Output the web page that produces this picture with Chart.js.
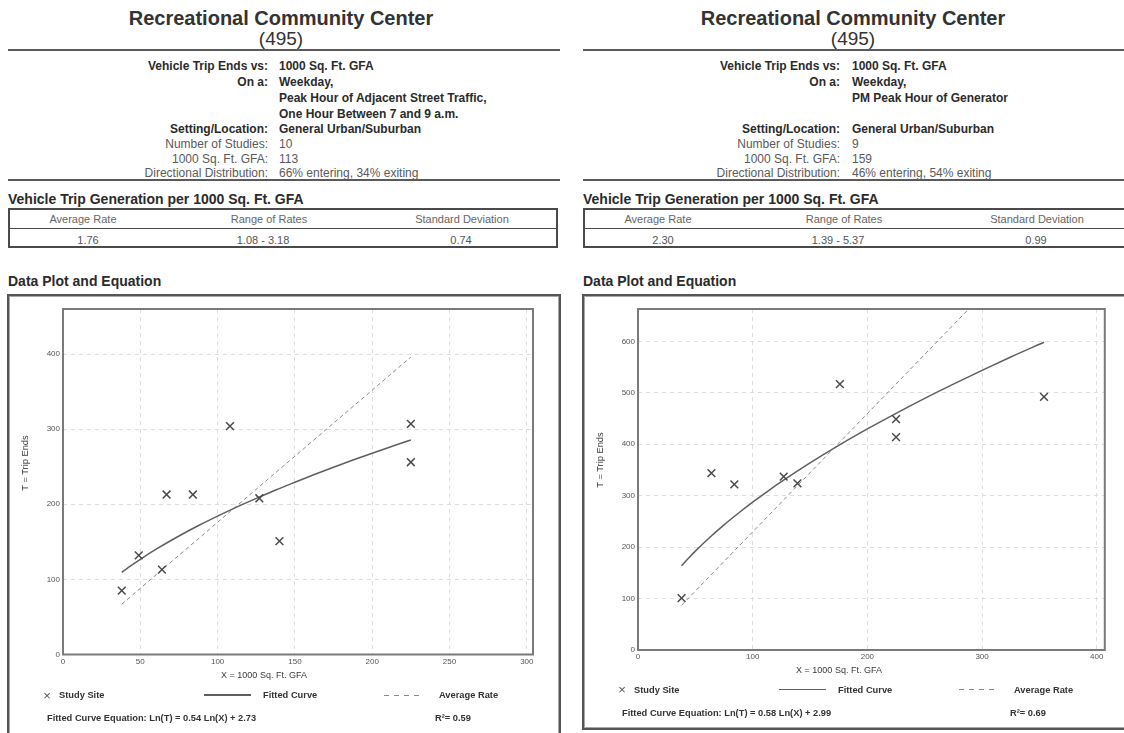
<!DOCTYPE html>
<html>
<head>
<meta charset="utf-8">
<script src="https://cdn.jsdelivr.net/npm/chart.js@4.4.1/dist/chart.umd.min.js"></script>
<style>
  html { overflow: hidden; }
  html, body { margin: 0; padding: 0; background: #fff; }
  body { width: 1124px; height: 733px; overflow: hidden; position: relative;
         font-family: "Liberation Sans", Arial, sans-serif; color: #333; }
  .t { position: absolute; white-space: nowrap; }
  .rule { position: absolute; height: 2px; background: #5a5a5a; }
  .table { position: absolute; border: 2px solid #4a4a4a; box-sizing: border-box; }
  .table .mid { position: absolute; left: 0; right: 0; height: 1px; background: #4a4a4a; }
  .box { position: absolute; border: 2px solid #555; box-shadow: inset 0 0 0 1px #a8a8a8; box-sizing: border-box; }
  canvas { position: absolute; }
  .solid { position: absolute; height: 1.5px; background: #5f5f5f; }
  .dash { position: absolute; height: 1px;
          background: repeating-linear-gradient(90deg, #8a8a8a 0 5px, transparent 5px 10px); }
</style>
</head>
<body>
<canvas id="chartA" width="550" height="380" style="left:9px;top:297px;width:550px;height:380px"></canvas>
<canvas id="chartB" width="540" height="380" style="left:584px;top:297px;width:540px;height:380px"></canvas>
<script>
// ---- AM peak (adjacent street traffic) ----
const amSiteX  = [38, 49, 64, 67, 84, 108, 127, 140, 225, 225];
const amSiteT  = [85, 132, 113, 213, 213, 304, 208, 151, 307, 256];
const amCurveX = [38, 44, 50, 60, 75, 88, 100, 113, 125, 138, 150, 163, 175, 188, 200, 213, 225];
const amCurveT = [109.3, 118.4, 126.8, 139.9, 157.8, 172.1, 184.3, 196.9, 207.9, 219.4, 229.4, 240.0, 249.4, 259.2, 268.0, 277.3, 285.6];
const amRateX  = [38, 225];
const amRateT  = [67, 396];
const amXTicks = [0, 50, 100, 150, 200, 250, 300];
const amYTicks = [0, 100, 200, 300, 400];
const amXRange = [0, 304];
const amYRange = [0, 460];

// ---- PM peak hour of generator ----
const pmSiteX  = [38, 64, 84, 127, 139, 176, 225, 225, 354];
const pmSiteT  = [101, 344, 322, 337, 324, 517, 449, 414, 492];
const pmCurveX = [38, 44, 50, 62, 75, 88, 100, 113, 125, 150, 175, 200, 225, 250, 275, 300, 325, 354];
const pmCurveT = [164.0, 178.5, 192.3, 217.8, 243.3, 266.9, 287.5, 308.6, 327.2, 363.7, 397.8, 429.8, 460.2, 489.3, 517.0, 543.8, 569.7, 598.4];
const pmRateX  = [38, 354];
const pmRateT  = [87, 814];
const pmXTicks = [0, 100, 200, 300, 400];
const pmYTicks = [0, 100, 200, 300, 400, 500, 600];
const pmXRange = [0, 407];
const pmYRange = [0, 663];

// ---- text blocks ----
const amInfoLabels = ["Vehicle Trip Ends vs:", "On a:", "", "", "Setting/Location:", "Number of Studies:", "1000 Sq. Ft. GFA:", "Directional Distribution:"];
const amInfoValues = ["1000 Sq. Ft. GFA", "Weekday,", "Peak Hour of Adjacent Street Traffic,", "One Hour Between 7 and 9 a.m.", "General Urban/Suburban", "10", "113", "66% entering, 34% exiting"];
const pmInfoLabels = ["Vehicle Trip Ends vs:", "On a:", "", "", "Setting/Location:", "Number of Studies:", "1000 Sq. Ft. GFA:", "Directional Distribution:"];
const pmInfoValues = ["1000 Sq. Ft. GFA", "Weekday,", "PM Peak Hour of Generator", "", "General Urban/Suburban", "9", "159", "46% entering, 54% exiting"];
const infoBold = [true, true, true, true, true, false, false, false];
const infoRowY = [66, 81.5, 97.5, 113.5, 129, 144, 158.5, 173];

const statHeads = ["Average Rate", "Range of Rates", "Standard Deviation"];
const amStats = ["1.76", "1.08 - 3.18", "0.74"];
const pmStats = ["2.30", "1.39 - 5.37", "0.99"];
const amEquation = "Fitted Curve Equation: Ln(T) = 0.54 Ln(X) + 2.73";
const pmEquation = "Fitted Curve Equation: Ln(T) = 0.58 Ln(X) + 2.99";
const amR2 = "R²= 0.59";
const pmR2 = "R²= 0.69";

const FONT = '"Liberation Sans", Arial, sans-serif';

// place a single line of text; align: 'l' (x = left edge), 'r' (x = right edge), 'c' (x = centre)
function txt(text, x, cy, size, opt = {}) {
  const d = document.createElement('div');
  d.className = 't';
  d.textContent = text;
  const lh = Math.round(size * 1.3);
  d.style.fontSize = size + 'px';
  d.style.lineHeight = lh + 'px';
  d.style.top = (cy - lh / 2) + 'px';
  d.style.fontWeight = opt.bold ? 'bold' : 'normal';
  d.style.color = opt.color || '#333';
  const align = opt.align || 'l';
  if (align === 'l') d.style.left = x + 'px';
  else if (align === 'r') d.style.right = (1124 - x) + 'px';
  else { d.style.left = (x - 300) + 'px'; d.style.width = '600px'; d.style.textAlign = 'center'; }
  if (opt.rotate) d.style.transform = 'rotate(-90deg)';
  document.body.appendChild(d);
  return d;
}
function el(cls, style) {
  const d = document.createElement('div');
  d.className = cls;
  Object.assign(d.style, style);
  document.body.appendChild(d);
  return d;
}

function buildPanel(p) {
  const P = p.left;
  txt("Recreational Community Center", p.titleX, 18, 20, { bold: true, align: 'c' });
  txt("(495)", p.titleX, 38.5, 19, { align: 'c' });
  el('rule', { left: P + 'px', top: '49px', width: p.ruleW + 'px' });

  p.labels.forEach((lab, i) => {
    const col = infoBold[i] ? '#2b2b2b' : '#5a5a5a';
    if (lab) txt(lab, p.labelR, infoRowY[i], 12, { bold: infoBold[i], align: 'r', color: col });
    if (p.values[i]) txt(p.values[i], p.valueL, infoRowY[i], 12, { bold: infoBold[i], color: col });
  });
  el('rule', { left: P + 'px', top: '179px', width: p.ruleW + 'px' });

  txt("Vehicle Trip Generation per 1000 Sq. Ft. GFA", P, 199, 14, { bold: true, color: '#2b2b2b' });
  const tb = el('table', { left: P + 'px', top: '208px', width: p.tableW + 'px', height: '40px' });
  const mid = document.createElement('div'); mid.className = 'mid'; mid.style.top = '18px'; tb.appendChild(mid);
  const headX = [75, 261, 454], valX = [80, 255, 453];
  statHeads.forEach((h, i) => txt(h, P + headX[i], 219, 11, { align: 'c', color: '#666' }));
  p.stats.forEach((v, i) => txt(v, P + valX[i], 240, 11, { align: 'c', color: '#555' }));

  txt("Data Plot and Equation", P, 281, 14, { bold: true, color: '#2b2b2b' });
  el('box', { left: p.boxL + 'px', top: '294px', width: p.boxW + 'px', height: p.boxH + 'px' });

  // axis titles, legend and equation line
  const L = p.plotL;
  txt("X = 1000 Sq. Ft. GFA", L + 201, p.xTitleY, 9, { align: 'c', color: '#3a3a3a' });
  txt("T = Trip Ends", p.yTitleX, p.yTitleY, 9.3, { align: 'c', rotate: true, color: '#3a3a3a' });
  txt("×", L - 16, p.legendY, 13, { align: 'c', color: '#555' });
  txt("Study Site", L - 4, p.legendY, 9.3, { bold: true });
  el('solid', { left: (L + 141) + 'px', top: (p.legendY - 0.75) + 'px', width: '47px' });
  txt("Fitted Curve", L + 200, p.legendY, 9.3, { bold: true });
  el('dash', { left: (L + 321) + 'px', top: (p.legendY - 0.5) + 'px', width: '40px' });
  txt("Average Rate", L + 376, p.legendY, 9.3, { bold: true });
  txt(p.equation, L - 16, p.eqY, 9.3, { bold: true });
  txt(p.r2, L + 372, p.eqY, 9.3, { bold: true });
}

// frame around the plotting area
const plotFrame = {
  id: 'plotFrame',
  afterDatasetsDraw(chart) {
    const { ctx, chartArea: a } = chart;
    ctx.save();
    ctx.strokeStyle = '#7a7a7a';
    ctx.lineWidth = 2;
    ctx.strokeRect(a.left, a.top, a.right - a.left, a.bottom - a.top);
    ctx.restore();
  }
};

function pts(xs, ys) { return xs.map((x, i) => ({ x: x, y: ys[i] })); }

function makeChart(id, c) {
  const axisFont = { family: FONT, size: 8 };
  new Chart(document.getElementById(id), {
    type: 'scatter',
    data: {
      datasets: [
        { label: 'Study Site', data: pts(c.siteX, c.siteT), pointStyle: 'crossRot',
          pointRadius: 5.5, pointHoverRadius: 5.5, borderColor: '#4a4a4a', backgroundColor: '#4a4a4a',
          pointBorderWidth: 1.5, order: 0 },
        { type: 'line', label: 'Fitted Curve', data: pts(c.curveX, c.curveT), borderColor: '#5f5f5f',
          borderWidth: 1.5, pointRadius: 0, cubicInterpolationMode: 'monotone', fill: false, order: 1 },
        { type: 'line', label: 'Average Rate', data: pts(c.rateX, c.rateT), borderColor: '#8a8a8a',
          borderWidth: 1, borderDash: [4, 3], pointRadius: 0, fill: false, order: 2 }
      ]
    },
    options: {
      responsive: false,
      animation: false,
      devicePixelRatio: 1,
      layout: { padding: { top: 12, right: c.padRight, left: 0, bottom: 0 } },
      plugins: { legend: { display: false }, tooltip: { enabled: false } },
      scales: {
        x: {
          type: 'linear', min: c.xRange[0], max: c.xRange[1],
          afterBuildTicks: s => { s.ticks = c.xTicks.map(v => ({ value: v })); },
          afterFit: s => { s.height = c.xAxisH; },
          grid: { color: '#dedede', lineWidth: 1, drawTicks: false },
          border: { display: false, dash: [4, 4] },
          ticks: { padding: 2, font: axisFont, color: '#555', maxRotation: 0, autoSkip: false }
        },
        y: {
          type: 'linear', min: c.yRange[0], max: c.yRange[1],
          afterBuildTicks: s => { s.ticks = c.yTicks.map(v => ({ value: v })); },
          afterFit: s => { s.width = 54; },
          grid: { color: '#dedede', lineWidth: 1, drawTicks: false },
          border: { display: false, dash: [4, 4] },
          ticks: { padding: 3, font: axisFont, color: '#555', autoSkip: false }
        }
      }
    },
    plugins: [plotFrame]
  });
}

buildPanel({
  left: 8, titleX: 281, ruleW: 552, labelR: 268, valueL: 279,
  labels: amInfoLabels, values: amInfoValues, tableW: 550, stats: amStats,
  boxL: 7, boxW: 554, boxH: 470, plotL: 63,
  xTitleY: 675, yTitleX: 25, yTitleY: 463, legendY: 695, eqY: 717.5,
  equation: amEquation, r2: amR2
});
buildPanel({
  left: 583, titleX: 853, ruleW: 620, labelR: 840, valueL: 852,
  labels: pmInfoLabels, values: pmInfoValues, tableW: 620, stats: pmStats,
  boxL: 582, boxW: 620, boxH: 436, plotL: 638,
  xTitleY: 670, yTitleX: 599.5, yTitleY: 460, legendY: 689.5, eqY: 712.7,
  equation: pmEquation, r2: pmR2
});

makeChart('chartA', {
  siteX: amSiteX, siteT: amSiteT, curveX: amCurveX, curveT: amCurveT, rateX: amRateX, rateT: amRateT,
  xTicks: amXTicks, yTicks: amYTicks, xRange: amXRange, yRange: amYRange,
  padRight: 26, xAxisH: 22.5
});
makeChart('chartB', {
  siteX: pmSiteX, siteT: pmSiteT, curveX: pmCurveX, curveT: pmCurveT, rateX: pmRateX, rateT: pmRateT,
  xTicks: pmXTicks, yTicks: pmYTicks, xRange: pmXRange, yRange: pmYRange,
  padRight: 19.2, xAxisH: 27
});
</script>
</body>
</html>
